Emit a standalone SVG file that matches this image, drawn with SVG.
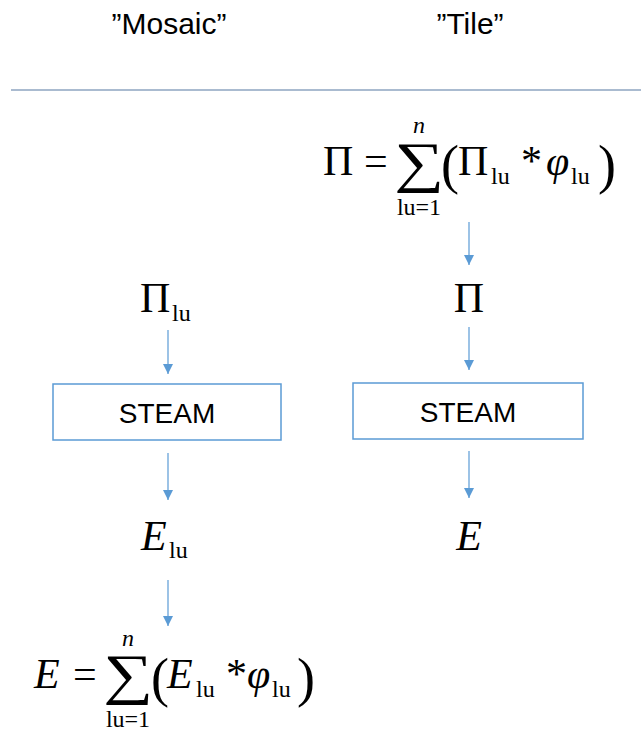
<svg xmlns="http://www.w3.org/2000/svg" width="641" height="731" viewBox="0 0 641 731">
<style>
.t{font-family:"Liberation Sans",Arial,sans-serif;font-size:30px;fill:#000;text-anchor:middle}
.st{font-family:"Liberation Sans",Arial,sans-serif;font-size:28px;fill:#000;text-anchor:middle}
.m{font-family:"Liberation Serif","Times New Roman",serif;font-size:42px;fill:#000}
.i{font-style:italic}
.s{font-family:"Liberation Serif","Times New Roman",serif;font-size:24px;fill:#000}
.c{text-anchor:middle}
.sum{font-family:"Liberation Serif","Times New Roman",serif;font-size:56px;fill:#000;text-anchor:middle}
.par{font-family:"Liberation Serif","Times New Roman",serif;font-size:54px;fill:#000}
.box{fill:#fff;stroke:#5b9bd5;stroke-width:1.5}
.arr{stroke:#5b9bd5;stroke-width:1.2;fill:none;marker-end:url(#ah)}
</style>
<defs>
<marker id="ah" viewBox="0 0 10 10" refX="10" refY="5" markerWidth="10" markerHeight="10" markerUnits="userSpaceOnUse" orient="auto">
<path d="M0,0 L10,5 L0,10 z" fill="#5b9bd5"/>
</marker>
</defs>
<rect width="641" height="731" fill="#fff"/>
<g id="title-mosaic"><text class="t" x="169" y="34">”Mosaic”</text></g>
<g id="title-tile"><text class="t" x="470" y="34">”Tile”</text></g>
<g id="divider"><line x1="11" y1="90" x2="641" y2="90" stroke="#8ea5c0" stroke-width="1.5"/></g>

<g id="formula-tile">
<text class="m" x="323" y="175">Π</text>
<text class="m" x="364" y="175">=</text>
<text class="sum" transform="translate(419,181) scale(1.25,1)" x="0" y="0">∑</text>
<text class="s i c" x="419" y="133">n</text>
<text class="s c" x="419" y="215">lu=1</text>
<text class="par" x="441" y="183">(</text>
<text class="m" x="458" y="175">Π</text>
<text class="s" x="491" y="184">lu</text>
<text class="m" x="521" y="175">*</text>
<text class="m i" x="546" y="175">φ</text>
<text class="s" x="571" y="184">lu</text>
<text class="par" x="598" y="183">)</text>
</g>
<g id="pi-tile"><text class="m c" x="469" y="312">Π</text></g>
<g id="steam-tile"><rect class="box" x="353" y="383" width="230" height="56"/><text class="st" x="468" y="422">STEAM</text></g>
<g id="e-tile"><text class="m i c" x="469" y="550">E</text></g>

<g id="pi-lu"><text class="m" x="140" y="312">Π</text><text class="s" x="172" y="321">lu</text></g>
<g id="steam-mosaic"><rect class="box" x="53" y="384" width="228" height="56"/><text class="st" x="167" y="423">STEAM</text></g>
<g id="e-lu"><text class="m i" x="141" y="550">E</text><text class="s" x="169" y="558">lu</text></g>

<g id="formula-mosaic">
<text class="m i" x="34" y="688">E</text>
<text class="m" x="73" y="688">=</text>
<text class="sum" transform="translate(128,693) scale(1.25,1)" x="0" y="0">∑</text>
<text class="s i c" x="128" y="646">n</text>
<text class="s c" x="128" y="727">lu=1</text>
<text class="par" x="151" y="696">(</text>
<text class="m i" x="167" y="688">E</text>
<text class="s" x="196" y="697">lu</text>
<text class="m" x="226" y="688">*</text>
<text class="m i" x="247" y="688">φ</text>
<text class="s" x="272" y="697">lu</text>
<text class="par" x="297" y="696">)</text>
</g>

<g id="connectors">
<line class="arr" x1="469" y1="222" x2="469" y2="265"/>
<line class="arr" x1="469" y1="327" x2="469" y2="370"/>
<line class="arr" x1="469" y1="451" x2="469" y2="498"/>
<line class="arr" x1="168" y1="330" x2="168" y2="374"/>
<line class="arr" x1="168" y1="453" x2="168" y2="500"/>
<line class="arr" x1="168" y1="580" x2="168" y2="626"/>
</g>
</svg>
